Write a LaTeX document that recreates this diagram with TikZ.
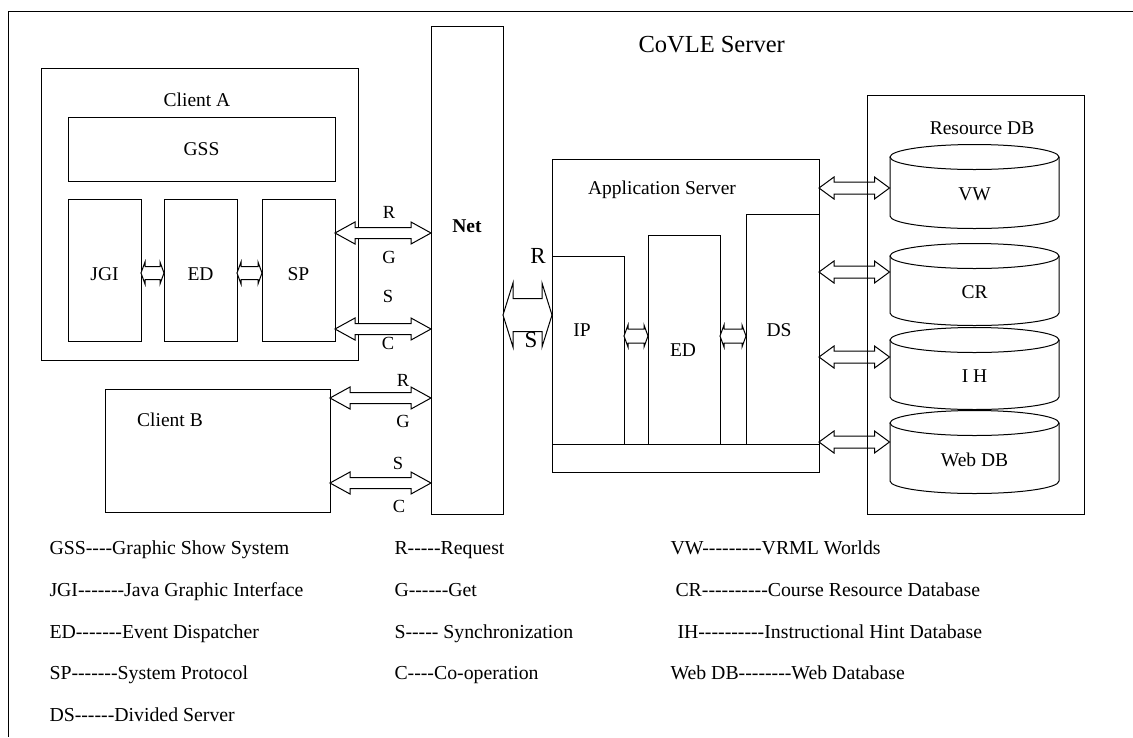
\documentclass[tikz,border=0pt]{standalone}
\usepackage{fontspec}
\setmainfont{Liberation Serif}[Ligatures=TeXOff]
\usetikzlibrary{calc}
\newcommand\harrow[6][fill=white]{%
\draw[#1,line join=miter] let \p1=#2,\p2=#3 in (\x1,\y1) -- (\x1+#6,\y1+#5) -- (\x1+#6,\y1+#4) -- (\x2-#6,\y1+#4) -- (\x2-#6,\y1+#5) -- (\x2,\y1) -- (\x2-#6,\y1-#5) -- (\x2-#6,\y1-#4) -- (\x1+#6,\y1-#4) -- (\x1+#6,\y1-#5) -- cycle;}
\newcommand\cyl[4]{% name, top centre y, bottom centre y, label
\draw[fill=white] (890,#2) -- (890,#3) arc[start angle=180,end angle=360,x radius=84.5pt,y radius=12.5pt] -- (1059,#2);
\draw[fill=white] (974.5,#2) ellipse[x radius=84.5pt,y radius=12.5pt];
\node[txt,minimum width=169pt,minimum height=40pt] (#1) at (974.5,{(#2+#3)/2+8}) {#4};}
\begin{document}
\begin{tikzpicture}[x=1pt,y=-1pt,line width=1pt,
  box/.style={draw,rectangle,inner sep=0pt,outer sep=0pt},
  txt/.style={inner sep=0pt,font=\fontsize{19.5}{22}\selectfont},
  lbl/.style={inner sep=0pt,font=\fontsize{18.5}{22}\selectfont},
  big/.style={inner sep=0pt,font=\fontsize{23}{26}\selectfont},
  leg/.style={inner sep=0pt,anchor=base west,font=\fontsize{19.8}{22}\selectfont}]
\useasboundingbox (0,0) rectangle (1133,737);
% outer frame
\draw (1133,11) -- (8,11) -- (8,737);
\node[inner sep=0pt,anchor=west,font=\fontsize{24.5}{28}\selectfont] (title) at (638,45) {CoVLE Server};
% Client A
\node[box,minimum width=317pt,minimum height=292pt] (clientA) at (199.5,214) {};
\node[txt] (clientAlbl) at (197,100) {Client A};
\node[box,minimum width=267pt,minimum height=64pt] (gss) at (201.5,149) {};
\node[txt] at (gss) {GSS};
\node[box,minimum width=73pt,minimum height=142pt] (jgi) at (104.5,270) {};
\node[txt] at (104.5,274) {JGI};
\node[box,minimum width=73pt,minimum height=142pt] (edA) at (200.5,270) {};
\node[txt] at (200.5,274) {ED};
\node[box,minimum width=73pt,minimum height=142pt] (sp) at (298.5,270) {};
\node[txt] at (298.5,274) {SP};
\coordinate (ya) at (0,273);
\harrow{(jgi.east |- ya)}{(edA.west |- ya)}{6.5pt}{11pt}{4pt}
\harrow{(edA.east |- ya)}{(sp.west |- ya)}{6.5pt}{11pt}{4pt}
% Client B
\node[box,minimum width=225pt,minimum height=123pt] (clientB) at (217.5,450.5) {};
\node[txt] (clientBlbl) at (170,420) {Client B};
% Net
\node[box,minimum width=72pt,minimum height=488pt] (net) at (467,270) {};
\node[txt,font=\fontsize{19.5}{22}\selectfont\bfseries] (netlbl) at (467,226) {Net};
% labels between clients and net
\node[lbl] (r1) at (389,212) {R};
\node[lbl] (g1) at (389,257) {G};
\node[lbl] (s1) at (388,296) {S};
\node[lbl] (c1) at (388,343) {C};
\node[lbl] (r2) at (403,380) {R};
\node[lbl] (g2) at (403,421) {G};
\node[lbl] (s2) at (398,463) {S};
\node[lbl] (c2) at (399,506) {C};
\coordinate (y1) at (0,233);
\coordinate (y2) at (0,329);
\coordinate (y3) at (0,398);
\coordinate (y4) at (0,483);
\harrow{(sp.east |- y1)}{(net.west |- y1)}{5.5pt}{11pt}{20pt}
\harrow{(sp.east |- y2)}{(net.west |- y2)}{5.5pt}{11pt}{20pt}
\harrow{(clientB.east |- y3)}{(net.west |- y3)}{5.5pt}{11pt}{20pt}
\harrow{(clientB.east |- y4)}{(net.west |- y4)}{5.5pt}{11pt}{20pt}
% Application server
\node[box,minimum width=267pt,minimum height=313pt] (app) at (685.5,315.5) {};
\node[txt] (applbl) at (662,190) {Application Server};
\node[box,minimum width=72pt,minimum height=188pt] (ip) at (588,350) {};
\node[txt] at (582,330) {IP};
\node[box,minimum width=72pt,minimum height=209pt] (edS) at (684,339.5) {};
\node[txt] at (683,350) {ED};
\node[box,minimum width=73pt,minimum height=230pt] (ds) at (782.5,329) {};
\node[txt] at (779,330) {DS};
\draw (ip.south west) -- (ds.south east);
\coordinate (yb) at (0,336);
\harrow{(ip.east |- yb)}{(edS.west |- yb)}{7pt}{11pt}{4pt}
\harrow{(edS.east |- yb)}{(ds.west |- yb)}{7pt}{11pt}{4pt}
% Net - app arrow
\coordinate (yn) at (0,315);
\harrow{(net.east |- yn)}{(app.west |- yn)}{16.5pt}{32pt}{10pt}
\node[big] (rbig) at (538,256) {R};
\node[big] (sbig) at (531,340) {S};
% Resource DB
\cyl{vw}{157}{216}{VW}
\cyl{cr}{256}{313}{CR}
\cyl{ih}{340}{397}{I H}
\cyl{webdb}{423}{481}{Web DB}
\coordinate (v1) at (0,188);
\coordinate (v2) at (0,272);
\coordinate (v3) at (0,357);
\coordinate (v4) at (0,442);
\harrow{(app.east |- v1)}{(vw.west |- v1)}{6pt}{11pt}{15pt}
\harrow{(app.east |- v2)}{(cr.west |- v2)}{6pt}{11pt}{15pt}
\harrow{(app.east |- v3)}{(ih.west |- v3)}{6pt}{11pt}{15pt}
\harrow{(app.east |- v4)}{(webdb.west |- v4)}{6pt}{11pt}{15pt}
\node[box,minimum width=217pt,minimum height=419pt] (resdb) at (975.5,304.5) {};
\node[txt] (resdblbl) at (982,128) {Resource DB};
% legend
\node[leg] at (49,554) {GSS----Graphic Show System};
\node[leg] at (49,596) {JGI-------Java Graphic Interface};
\node[leg] at (49,638) {ED-------Event Dispatcher};
\node[leg] at (49,679) {SP-------System Protocol};
\node[leg] at (49,721) {DS------Divided Server};
\node[leg] at (394,554) {R-----Request};
\node[leg] at (394,596) {G------Get};
\node[leg] at (394,638) {S----- Synchronization};
\node[leg] at (394,679) {C----Co-operation};
\node[leg] at (670,554) {VW---------VRML Worlds};
\node[leg] at (675,596) {CR----------Course Resource Database};
\node[leg] at (677,638) {IH----------Instructional Hint Database};
\node[leg] at (670,679) {Web DB--------Web Database};
\end{tikzpicture}
\end{document}
